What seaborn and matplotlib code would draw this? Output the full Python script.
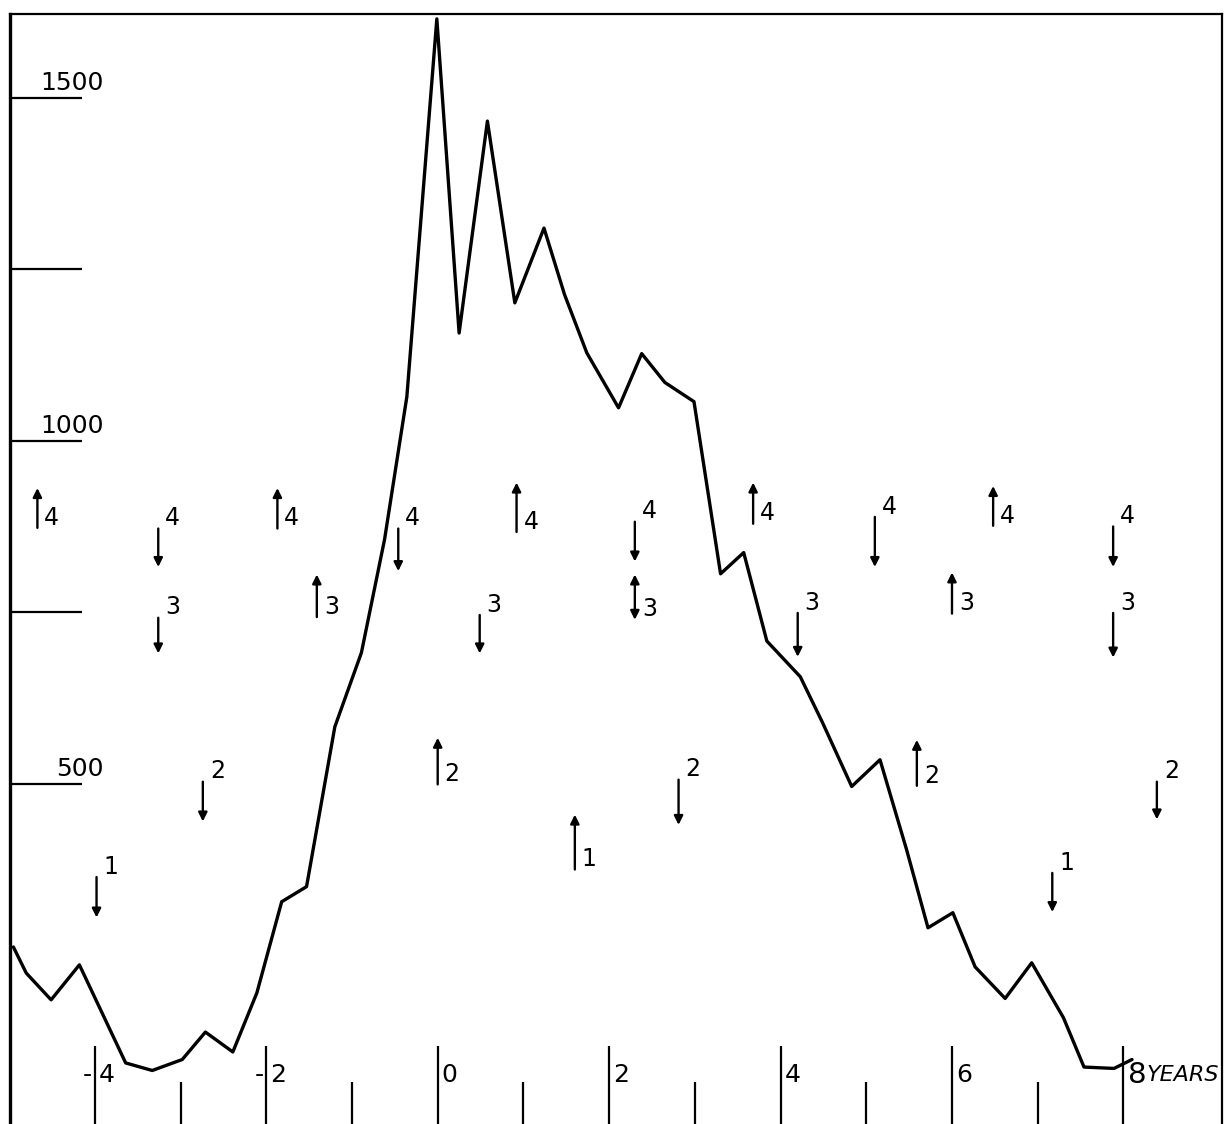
import numpy as np
import pandas as pd
import matplotlib
matplotlib.use("Agg")
import matplotlib.pyplot as plt
import matplotlib.transforms as mtransforms
import seaborn as sns

# curve (years from 0, count)
years = [-4.95, -4.80, -4.51, -4.18, -3.64, -3.33, -2.98, -2.71, -2.39, -2.11,
         -1.82, -1.53, -1.20, -0.89, -0.62, -0.36, -0.01, 0.25, 0.58, 0.90,
         1.24, 1.48, 1.74, 2.11, 2.38, 2.65, 2.99, 3.30, 3.57, 3.84,
         4.23, 4.49, 4.83, 5.16, 5.47, 5.72, 6.01, 6.27, 6.62, 6.93,
         7.30, 7.54, 7.89, 8.10]
counts = [262, 224, 185, 236, 93, 82, 98, 138, 109, 195,
          328, 350, 583, 691, 856, 1064, 1615, 1157, 1466, 1201,
          1310, 1213, 1128, 1048, 1127, 1085, 1057, 806, 837, 708,
          656, 589, 496, 535, 404, 290, 312, 233, 187, 239,
          159, 87, 85, 98]

# arrows: label, x position, tail value, head value
arrow_labels = ['4'] * 10 + ['3'] * 7 + ['2'] * 5 + ['1'] * 3
arrow_x = [-4.67, -3.26, -1.87, -0.46, 0.92, 2.30, 3.68, 5.10, 6.48, 7.88,
           -3.26, -1.41, 0.49, 2.30, 4.20, 6.00, 7.88,
           -2.74, 0.00, 2.81, 5.59, 8.39,
           -3.98, 1.60, 7.17]
arrow_tail = [873, 872, 872, 872, 867, 882, 879, 889, 876, 875,
              742, 743, 746, 739, 749, 748, 749,
              503, 499, 506, 497, 503,
              364, 375, 370]
arrow_head = [931, 816, 931, 810, 939, 824, 939, 816, 934, 816,
              690, 805, 690, 805, 685, 808, 684,
              445, 567, 440, 564, 448,
              305, 455, 313]
double_headed = [False] * 13 + [True] + [False] * 11

y_ticks = [500, 750, 1000, 1250, 1500]
y_labels = ['500', '', '1000', '', '1500']
x_major = [-4, -2, 0, 2, 4, 6, 8]
x_minor = [-3, -1, 1, 3, 5, 7]

sns.set_style('white')
plt.rcParams['font.family'] = ['DejaVu Sans']
plt.rcParams['text.color'] = 'black'

fig = plt.figure(figsize=(12.3, 11.24), dpi=100)
ax = fig.add_axes([0.0081, 0.0, 0.9854, 0.9875])

df = pd.DataFrame({'year': years, 'count': counts})
sns.lineplot(data=df, x='year', y='count', color='black', lw=2.4, ax=ax)

ax.set_xlim(-4.99, 9.15)
ax.set_ylim(4, 1622)
ax.set_xlabel('')
ax.set_ylabel('')

for s in ['left', 'top', 'right']:
    ax.spines[s].set_visible(True)
    ax.spines[s].set_color('black')
ax.spines['left'].set_linewidth(2.4)
ax.spines['top'].set_linewidth(1.6)
ax.spines['right'].set_linewidth(1.6)
ax.spines['bottom'].set_visible(False)

# long inward ticks like the drawing
ax.set_yticks(y_ticks)
ax.set_yticklabels([])
ax.tick_params(axis='y', direction='in', length=52, width=1.6, color='black', left=True)
ax.set_xticks(x_major)
ax.set_xticks(x_minor, minor=True)
ax.set_xticklabels([])
ax.tick_params(axis='x', which='major', direction='in', length=56, width=1.6,
               color='black', bottom=True)
ax.tick_params(axis='x', which='minor', direction='in', length=30, width=1.6,
               color='black', bottom=True)

ytrans = mtransforms.blended_transform_factory(ax.transAxes, ax.transData)
for v, lab in zip(y_ticks, y_labels):
    if lab:
        ax.annotate(lab, xy=(0.077, v), xycoords=ytrans, xytext=(0, 2),
                    textcoords='offset points', ha='right', va='bottom',
                    fontsize=18, color='black')

xtrans = mtransforms.blended_transform_factory(ax.transData, ax.transAxes)
for v in x_major:
    txt = str(abs(v))
    if v == 8:
        ax.annotate(txt, xy=(v, 0.044), xycoords=xtrans, xytext=(3, 0),
                    textcoords='offset points', ha='left', va='center',
                    fontsize=21, color='black')
        ax.annotate('YEARS', xy=(v, 0.044), xycoords=xtrans, xytext=(17, 0),
                    textcoords='offset points', ha='left', va='center',
                    fontsize=16, style='italic', color='black')
        continue
    ax.annotate(txt, xy=(v, 0.044), xycoords=xtrans, xytext=(3, 0),
                textcoords='offset points', ha='left', va='center',
                fontsize=18, color='black')
    if v < 0:
        ax.annotate('-', xy=(v, 0.044), xycoords=xtrans, xytext=(-2, 0),
                    textcoords='offset points', ha='right', va='center',
                    fontsize=18, color='black')

for lab, x, t, h, dbl in zip(arrow_labels, arrow_x, arrow_tail, arrow_head, double_headed):
    style = '<|-|>' if dbl else '-|>'
    ax.annotate('', xy=(x, h), xytext=(x, t),
                arrowprops=dict(arrowstyle=style, color='black', lw=1.7,
                                shrinkA=0, shrinkB=0, mutation_scale=13))
    ax.annotate(lab, xy=(x, t + 15), xytext=(5, 0), textcoords='offset points',
                ha='left', va='center', fontsize=17, color='black')

fig.savefig('out.png', dpi=100, facecolor='white')
